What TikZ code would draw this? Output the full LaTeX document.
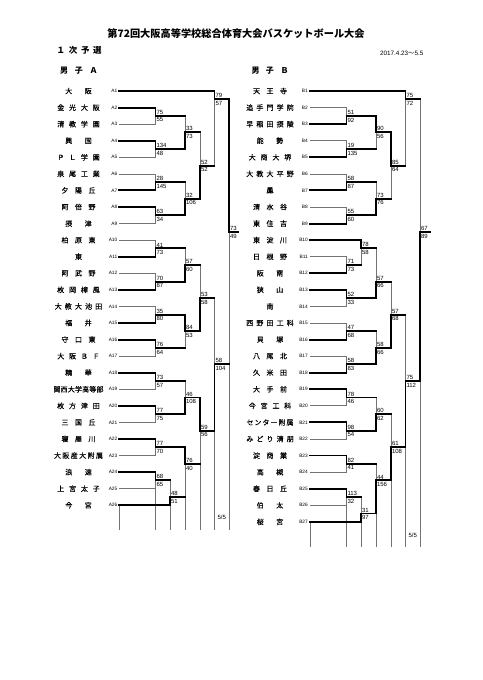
\documentclass[tikz,border=0pt]{standalone}
\usepackage{fontspec}
\newfontfamily\jp{Noto Sans CJK JP}
\newfontfamily\jpm[FakeBold=0.3]{Noto Sans CJK JP}
\newfontfamily\lat{Liberation Sans}
\pgfdeclarelayer{bg}
\pgfsetlayers{bg,main}
\makeatletter
\def\spr@loop#1{\ifx#1\relax\else\hfil#1\expandafter\spr@loop\fi}
\def\spr@first#1{#1\spr@loop}
\newcommand\spreadbox[2]{\ifdim#1=0pt\relax#2\else\makebox[#1][s]{\spr@first#2\relax}\fi}
\makeatother
\tikzset{
 thk/.style={line width=1.9pt, black, line cap=rect},
 thn/.style={line width=0.7pt, black!55},
 lab/.style={anchor=east, inner sep=0pt, font=\lat\fontsize{4.8}{5}\selectfont},
 nm/.style={inner sep=0pt, font=\jpm\fontsize{7}{8}\selectfont},
 sct/.style={anchor=south west, inner sep=0pt, xshift=0.8pt, yshift=1.2pt, font=\lat\fontsize{6}{7}\selectfont},
 scb/.style={anchor=north west, inner sep=0pt, xshift=0.8pt, yshift=-1.8pt, font=\lat\fontsize{6}{7}\selectfont},
 hdr/.style={inner sep=0pt, font=\jp\bfseries\fontsize{8}{9}\selectfont},
}
\newcommand\teamL[4]{\coordinate (#1) at (119,#2); \node[lab] (l#1) at (117.5,#2) {#1}; \node[nm] (n#1) at (78.5,#2) {\spreadbox{#3}{#4}};}
\newcommand\teamR[4]{\coordinate (#1) at (310,#2); \node[lab] (l#1) at (308,#2) {#1}; \node[nm] (n#1) at (270,#2) {\spreadbox{#3}{#4}};}
\newcommand\Wn[2]{\draw[thk] (#1) -| (#2);}
\newcommand\Lt[2]{\begin{pgfonlayer}{bg}\draw[thn] (#1) -| (#2);\end{pgfonlayer}}
\newcommand\Lm[2]{\draw[thk] (#1) -- (#1 -| #2);\begin{pgfonlayer}{bg}\draw[thn] (#1 -| #2) -- (#2);\end{pgfonlayer}}
\newcommand\mscore[3]{\node[sct] (#1t) at (#1) {#2}; \node[scb] (#1b) at (#1) {#3};}
\begin{document}
\begin{tikzpicture}[x=1pt,y=-1pt]
\useasboundingbox (0,0) rectangle (482,680);
\begin{pgfonlayer}{bg}
\fill[white] (0,0) rectangle (482,680);
\end{pgfonlayer}
\node[inner sep=0pt, font=\jp\bfseries\fontsize{10.2}{12}\selectfont] (title) at (236,33.3) {第72回大阪高等学校総合体育大会バスケットボール大会};
\node[hdr, font=\jp\bfseries\fontsize{8.5}{9}\selectfont] (round) at (79.2,50) {\spreadbox{45pt}{１次予選}};
\node[inner sep=0pt, anchor=west, font=\lat\fontsize{6.3}{7}\selectfont] (date) at (380,53.3) {2017.4.23{\jp 〜}5.5};
\node[hdr] (grpA) at (78.8,71) {\spreadbox{37.5pt}{男子Ａ}};
\node[hdr] (grpB) at (270,71) {\spreadbox{37pt}{男子Ｂ}};
\begin{scope}[shift={(0,91)}, y=-8.285pt]
% ---------- left teams
\teamL{A1}{0}{26.5pt}{大阪}
\teamL{A2}{2}{42.5pt}{金光大阪}
\teamL{A3}{4}{42.5pt}{清教学園}
\teamL{A4}{6}{26.5pt}{興国}
\teamL{A5}{8}{42.5pt}{ＰＬ学園}
\teamL{A6}{10}{42.5pt}{泉尾工業}
\teamL{A7}{12}{34pt}{夕陽丘}
\teamL{A8}{14}{34pt}{阿倍野}
\teamL{A9}{16}{26.5pt}{摂津}
\teamL{A10}{18}{34pt}{柏原東}
\teamL{A11}{20}{0pt}{東}
\teamL{A12}{22}{34pt}{阿武野}
\teamL{A13}{24}{42.5pt}{枚岡樟風}
\teamL{A14}{26}{47.5pt}{大教大池田}
\teamL{A15}{28}{26.5pt}{福井}
\teamL{A16}{30}{34pt}{守口東}
\teamL{A17}{32}{42.5pt}{大阪ＢＦ}
\teamL{A18}{34}{26.5pt}{精華}
\teamL{A19}{36}{50pt}{関西大学高等部}
\teamL{A20}{38}{42.5pt}{枚方津田}
\teamL{A21}{40}{34pt}{三国丘}
\teamL{A22}{42}{34pt}{寝屋川}
\teamL{A23}{44}{49pt}{大阪産大附属}
\teamL{A24}{46}{26.5pt}{浪速}
\teamL{A25}{48}{42.5pt}{上宮太子}
\teamL{A26}{50}{26.5pt}{今宮}
% ---------- right teams
\teamR{B1}{0}{34pt}{天王寺}
\teamR{B2}{2}{47.5pt}{追手門学院}
\teamR{B3}{4}{47.5pt}{早稲田摂陵}
\teamR{B4}{6}{26.5pt}{能勢}
\teamR{B5}{8}{42.5pt}{大商大堺}
\teamR{B6}{10}{47.5pt}{大教大平野}
\teamR{B7}{12}{0pt}{鳳}
\teamR{B8}{14}{34pt}{清水谷}
\teamR{B9}{16}{34pt}{東住吉}
\teamR{B10}{18}{34pt}{東淀川}
\teamR{B11}{20}{34pt}{日根野}
\teamR{B12}{22}{26.5pt}{阪南}
\teamR{B13}{24}{26.5pt}{狭山}
\teamR{B14}{26}{0pt}{南}
\teamR{B15}{28}{47.5pt}{西野田工科}
\teamR{B16}{30}{26.5pt}{貝塚}
\teamR{B17}{32}{34pt}{八尾北}
\teamR{B18}{34}{34pt}{久米田}
\teamR{B19}{36}{34pt}{大手前}
\teamR{B20}{38}{42.5pt}{今宮工科}
\teamR{B21}{40}{47pt}{センター附属}
\teamR{B22}{42}{47.5pt}{みどり清朋}
\teamR{B23}{44}{34pt}{淀商業}
\teamR{B24}{46}{26.5pt}{高槻}
\teamR{B25}{48}{34pt}{春日丘}
\teamR{B26}{50}{26.5pt}{伯太}
\teamR{B27}{52}{26.5pt}{桜宮}
% ---------- left match points
\coordinate (M1) at (155.5,3);  \coordinate (M2) at (155.5,7);
\coordinate (M3) at (185,5);    \coordinate (M4) at (155.5,11);
\coordinate (M5) at (155.5,15); \coordinate (M6) at (185,13);
\coordinate (M7) at (200,9);    \coordinate (M8) at (214.5,1);
\coordinate (M9) at (155.5,19); \coordinate (M10) at (155.5,23);
\coordinate (M11) at (185,21);  \coordinate (M12) at (155.5,27);
\coordinate (M13) at (155.5,31);\coordinate (M14) at (185,29);
\coordinate (M15) at (200,25);  \coordinate (M16) at (214.5,33);
\coordinate (M17) at (155.5,35);\coordinate (M18) at (155.5,39);
\coordinate (M19) at (185,37);  \coordinate (M20) at (155.5,43);
\coordinate (M21) at (155.5,47);\coordinate (M22) at (170,49);
\coordinate (M23) at (185,45);  \coordinate (M24) at (200,41);
\coordinate (LF) at (229,17);   \coordinate (LW) at (238,17);
% ---------- left connectors
\Wn{A2}{M1} \Lt{A3}{M1} \mscore{M1}{75}{55}
\Wn{A4}{M2} \Lt{A5}{M2} \mscore{M2}{134}{48}
\Lm{M1}{M3} \Wn{M2}{M3} \mscore{M3}{33}{73}
\Lt{A6}{M4} \Wn{A7}{M4} \mscore{M4}{28}{145}
\Wn{A8}{M5} \Lt{A9}{M5} \mscore{M5}{63}{34}
\Lm{M4}{M6} \Wn{M5}{M6} \mscore{M6}{32}{106}
\Lm{M3}{M7} \Wn{M6}{M7} \mscore{M7}{52}{52}
\Wn{A1}{M8} \Lm{M7}{M8} \mscore{M8}{79}{57}
\Lt{A10}{M9} \Wn{A11}{M9} \mscore{M9}{41}{73}
\Lt{A12}{M10} \Wn{A13}{M10} \mscore{M10}{70}{87}
\Lm{M9}{M11} \Wn{M10}{M11} \mscore{M11}{57}{60}
\Lt{A14}{M12} \Wn{A15}{M12} \mscore{M12}{35}{80}
\Wn{A16}{M13} \Lt{A17}{M13} \mscore{M13}{76}{64}
\Wn{M12}{M14} \Lm{M13}{M14} \mscore{M14}{84}{53}
\Lm{M11}{M15} \Wn{M14}{M15} \mscore{M15}{53}{58}
\Wn{A18}{M17} \Lt{A19}{M17} \mscore{M17}{73}{57}
\Wn{A20}{M18} \Lt{A21}{M18} \mscore{M18}{77}{75}
\Lm{M17}{M19} \Wn{M18}{M19} \mscore{M19}{46}{108}
\Wn{A22}{M20} \Lt{A23}{M20} \mscore{M20}{77}{70}
\Wn{A24}{M21} \Lt{A25}{M21} \mscore{M21}{68}{65}
\Lm{M21}{M22} \Wn{A26}{M22} \mscore{M22}{48}{51}
\Wn{M20}{M23} \Lm{M22}{M23} \mscore{M23}{76}{40}
\Wn{M19}{M24} \Lm{M23}{M24} \mscore{M24}{59}{56}
\Lm{M15}{M16} \Wn{M24}{M16} \mscore{M16}{58}{104}
\Wn{M8}{LF} \Lm{M16}{LF} \mscore{LF}{73}{49}
\draw[thk] (LF) -- (LW);
% ---------- left column extensions
\coordinate (Lb0) at (119,53);   \coordinate (Lb1) at (155.5,53);
\coordinate (Lb2) at (170,53);   \coordinate (Lb3) at (185,53);
\coordinate (Lb4) at (200,53);   \coordinate (Lb5) at (214.5,53);
\coordinate (Lb6) at (229,53);
\begin{pgfonlayer}{bg}
\draw[thn] (A26) -- (Lb0);
\draw[thn] (A25 -| M21) -- (Lb1);
\draw[thn] (A26 -| M22) -- (Lb2);
\draw[thn] (M22 -| M23) -- (Lb3);
\draw[thn] (M23 -| M24) -- (Lb4);
\draw[thn] (M24 -| M16) -- (Lb5);
\draw[thn] (M16 -| LF) -- (Lb6);
\end{pgfonlayer}
\node[inner sep=0pt, font=\lat\fontsize{6}{7}\selectfont] (dL) at (221.75,51.5) {5/5};
% ---------- right match points
\coordinate (R1) at (346.5,3);  \coordinate (R2) at (346.5,7);
\coordinate (R3) at (376,5);    \coordinate (R4) at (346.5,11);
\coordinate (R5) at (346.5,15); \coordinate (R6) at (376,13);
\coordinate (R7) at (391,9);    \coordinate (R8) at (405.5,1);
\coordinate (R9) at (346.5,21); \coordinate (R10) at (361,19);
\coordinate (R11) at (346.5,25);\coordinate (R12) at (376,23);
\coordinate (R14) at (346.5,29);\coordinate (R15) at (346.5,33);
\coordinate (R16) at (376,31);  \coordinate (R13) at (391,27);
\coordinate (R17) at (346.5,37);\coordinate (R18) at (346.5,41);
\coordinate (R19) at (376,39);  \coordinate (R20) at (346.5,45);
\coordinate (R21) at (346.5,49);\coordinate (R22) at (361,51);
\coordinate (R23) at (376,47);  \coordinate (R24) at (391,43);
\coordinate (R25) at (405.5,35);
\coordinate (RF) at (420,17);   \coordinate (RW) at (430,17);
% ---------- right connectors
\Lt{B2}{R1} \Wn{B3}{R1} \mscore{R1}{51}{92}
\Lt{B4}{R2} \Wn{B5}{R2} \mscore{R2}{19}{135}
\Wn{R1}{R3} \Lm{R2}{R3} \mscore{R3}{90}{56}
\Lt{B6}{R4} \Wn{B7}{R4} \mscore{R4}{58}{87}
\Lt{B8}{R5} \Wn{B9}{R5} \mscore{R5}{55}{60}
\Lm{R4}{R6} \Wn{R5}{R6} \mscore{R6}{73}{76}
\Wn{R3}{R7} \Lm{R6}{R7} \mscore{R7}{85}{64}
\Wn{B1}{R8} \Lm{R7}{R8} \mscore{R8}{75}{72}
\Lt{B11}{R9} \Wn{B12}{R9} \mscore{R9}{71}{73}
\Wn{B10}{R10} \Lm{R9}{R10} \mscore{R10}{78}{58}
\Wn{B13}{R11} \Lt{B14}{R11} \mscore{R11}{52}{33}
\Lm{R10}{R12} \Wn{R11}{R12} \mscore{R12}{57}{66}
\Lt{B15}{R14} \Wn{B16}{R14} \mscore{R14}{47}{68}
\Lt{B17}{R15} \Wn{B18}{R15} \mscore{R15}{58}{83}
\Lm{R14}{R16} \Wn{R15}{R16} \mscore{R16}{58}{66}
\Lm{R12}{R13} \Wn{R16}{R13} \mscore{R13}{57}{68}
\Wn{B19}{R17} \Lt{B20}{R17} \mscore{R17}{78}{46}
\Wn{B21}{R18} \Lt{B22}{R18} \mscore{R18}{98}{54}
\Lm{R17}{R19} \Wn{R18}{R19} \mscore{R19}{60}{62}
\Wn{B23}{R20} \Lt{B24}{R20} \mscore{R20}{82}{41}
\Wn{B25}{R21} \Lt{B26}{R21} \mscore{R21}{113}{32}
\Lm{R21}{R22} \Wn{B27}{R22} \mscore{R22}{31}{97}
\Lm{R20}{R23} \Wn{R22}{R23} \mscore{R23}{44}{156}
\Lm{R19}{R24} \Wn{R23}{R24} \mscore{R24}{61}{108}
\Lm{R13}{R25} \Wn{R24}{R25} \mscore{R25}{75}{112}
\Lm{R8}{RF} \Wn{R25}{RF} \mscore{RF}{67}{89}
\draw[thk] (RF) -- (RW);
% ---------- right column extensions
\coordinate (Rb0) at (310,55);   \coordinate (Rb1) at (346.5,55);
\coordinate (Rb2) at (361,55);   \coordinate (Rb3) at (376,55);
\coordinate (Rb4) at (391,55);   \coordinate (Rb5) at (405.5,55);
\coordinate (Rb6) at (420,55);
\begin{pgfonlayer}{bg}
\draw[thn] (B27) -- (Rb0);
\draw[thn] (B26 -| R21) -- (Rb1);
\draw[thn] (B27 -| R22) -- (Rb2);
\draw[thn] (R22 -| R23) -- (Rb3);
\draw[thn] (R23 -| R24) -- (Rb4);
\draw[thn] (R24 -| R25) -- (Rb5);
\draw[thn] (R25 -| RF) -- (Rb6);
\end{pgfonlayer}
\node[inner sep=0pt, font=\lat\fontsize{6}{7}\selectfont] (dR) at (412.75,53.6) {5/5};
\end{scope}
\end{tikzpicture}
\end{document}
